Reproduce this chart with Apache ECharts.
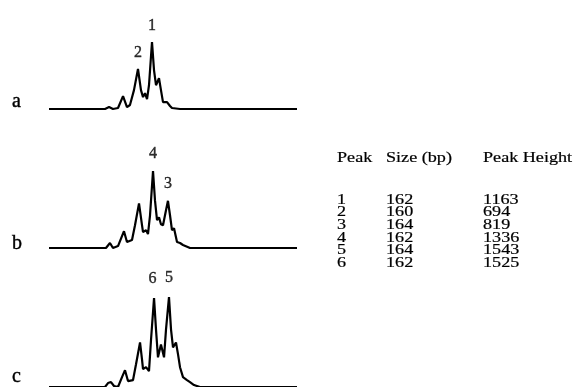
<!DOCTYPE html>
<html>
<head>
<meta charset="utf-8">
<script src="https://cdn.jsdelivr.net/npm/echarts@6/dist/echarts.min.js"></script>
<style>
html,body{margin:0;padding:0;background:#fff;}
#chart{width:579px;height:387px;}
</style>
</head>
<body>
<div id="chart"></div>
<script>
// Electropherogram traces: [size (bp), signal height]
var traceA = [
  [148,0],[155.68,0],[156.23,34],[156.77,0],[157.46,17],[158.15,224],[158.69,34],[159.10,69],
  [159.65,327],[160.20,694],[160.61,327],[160.89,206],[161.16,275],[161.44,172],[161.71,413],
  [162.12,1163],[162.40,671],[162.67,413],[163.08,533],[163.35,327],[163.63,120],[164.18,120],
  [164.59,52],[164.86,17],[165.96,0],[169.0,0],[169.11,9],[169.25,0],[172.7,0],[172.81,9],[172.95,0],[182,0]
];
var traceB = [
  [148,0],[151.7,0],[151.84,26],[152.11,0],[154.0,0],[154.17,17],[154.4,0],[155.81,0],[156.36,86],
  [156.77,0],[157.46,34],[158.28,292],[158.69,103],[159.38,138],[159.79,396],[160.34,774],
  [160.75,396],[160.89,275],[161.30,310],[161.57,241],[161.85,568],[162.26,1336],[162.53,826],
  [162.81,482],[163.08,533],[163.35,413],[163.63,396],[164.04,654],[164.31,819],[164.59,568],
  [164.86,310],[165.14,344],[165.55,103],[165.96,86],[166.37,52],[167.33,0],[175.1,0],[175.28,17],
  [175.5,0],[182,0]
];
var traceC = [
  [148,0],[155.68,0],[156.09,68],[156.50,85],[156.91,17],[157.46,0],[158.01,170],[158.42,289],
  [158.83,102],[159.52,119],[159.93,391],[160.48,765],[160.75,476],[160.89,306],[161.30,340],
  [161.71,272],[161.99,816],[162.40,1525],[162.67,986],[162.94,510],[163.35,731],[163.77,510],
  [164.04,986],[164.45,1543],[164.73,986],[165.00,680],[165.41,765],[165.69,561],[165.96,340],
  [166.37,170],[166.92,119],[167.33,85],[167.88,34],[168.70,0],[181.59,0],[181.73,34],[181.86,0],[182,0]
];
// Peak annotations: [size (bp), height, label]
var peakLabelsA = [[162.12,1163,'1'],[160.20,694,'2']];
var peakLabelsB = [[162.26,1336,'4'],[164.31,819,'3']];
var peakLabelsC = [[162.20,1525,'6'],[164.45,1543,'5']];
var traceNames = ['a','b','c'];

// Table
var tableHeaders = ['Peak','Size (bp)','Peak Height'];
var tablePeak = ['1','2','3','4','5','6'];
var tableSize = ['162','160','164','162','164','162'];
var tableHeight = ['1163','694','819','1336','1543','1525'];

var serif = '"Liberation Serif","DejaVu Serif",serif';
var grids = [
  {left:49, width:248, top:39, height:70},
  {left:49, width:248, top:168, height:80},
  {left:49, width:248, top:288, height:100}
];
var yMax = [1215, 1388, 1700];
var traces = [traceA, traceB, traceC];
var labels = [peakLabelsA, peakLabelsB, peakLabelsC];

var xAxes = [], yAxes = [], series = [];
for (var i = 0; i < 3; i++) {
  xAxes.push({type:'value', gridIndex:i, min:148, max:182, show:false});
  yAxes.push({type:'value', gridIndex:i, min:0, max:yMax[i], show:false});
  series.push({
    type:'line', xAxisIndex:i, yAxisIndex:i, data:traces[i], showSymbol:false,
    clip:false, silent:true, animation:false,
    lineStyle:{color:'#000', width:2.2}
  });
  series.push({
    type:'scatter', xAxisIndex:i, yAxisIndex:i, data:labels[i], symbolSize:0,
    animation:false, silent:true,
    label:{show:true, position:'top', distance:[8,9,11][i], color:'#000',
      fontFamily:serif, fontSize:16, textBorderColor:'#000', textBorderWidth:0.4,
      formatter:function(p){return p.value[2];}}
  });
}

var graphics = [];
var rowLabelY = [102, 244, 377];
for (var k = 0; k < 3; k++) {
  graphics.push({type:'text', x:12, y:rowLabelY[k],
    style:{text:traceNames[k], font:'20px '+serif, fill:'#000', stroke:'#000', lineWidth:0.4, textVerticalAlign:'middle'}});
}
var colX = [337, 386, 483];
var tStyle = function(t){return {text:t, font:'14.5px '+serif, fill:'#000', stroke:'#000', lineWidth:0.2, textVerticalAlign:'middle'};};
for (var h = 0; h < 3; h++) {
  graphics.push({type:'text', x:colX[h], y:158, scaleX:1.25, style:tStyle(tableHeaders[h])});
}
var cols = [tablePeak, tableSize, tableHeight];
for (var r = 0; r < tablePeak.length; r++) {
  for (var c = 0; c < 3; c++) {
    graphics.push({type:'text', x:colX[c], y:200 + r*12.6, scaleX:1.25, style:tStyle(cols[c][r])});
  }
}

var chart = echarts.init(document.getElementById('chart'), null, {renderer:'canvas'});
chart.setOption({
  backgroundColor:'#fff',
  animation:false,
  grid:grids,
  xAxis:xAxes,
  yAxis:yAxes,
  series:series,
  graphic:graphics
});
</script>
</body>
</html>
